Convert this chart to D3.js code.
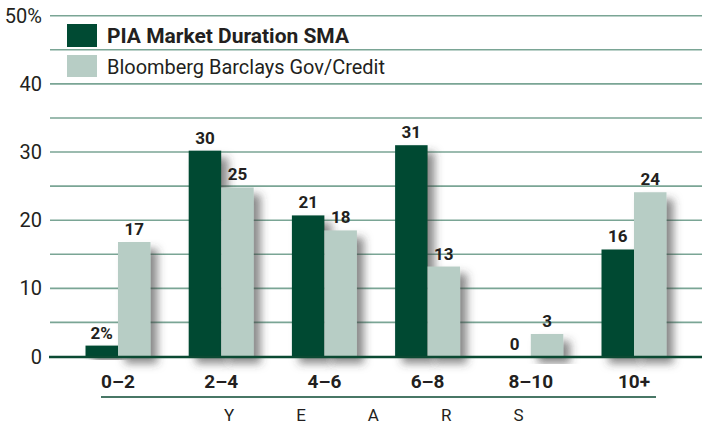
<!DOCTYPE html>
<html><head><meta charset="utf-8">
<script src="https://cdn.jsdelivr.net/npm/d3@7"></script>
<style>
html,body{margin:0;padding:0;background:#fff;}
svg{display:block;font-family:Roboto,"Open Sans",sans-serif;}
</style></head>
<body><svg id="c" width="702" height="426"></svg>
<script>
const categories = ["0–2","2–4","4–6","6–8","8–10","10+"];
const seriesNames = ["PIA Market Duration SMA","Bloomberg Barclays Gov/Credit"];
const piaValues = [1.6, 30.2, 20.7, 31.0, 0, 15.7];
const bbgValues = [16.8, 24.8, 18.5, 13.2, 3.3, 24.1];
const piaLabels = ["2%","30","21","31","0","16"];
const bbgLabels = ["17","25","18","13","3","24"];
const yTicks = [0,10,20,30,40,50];
const yTickLabels = ["0","10","20","30","40","50%"];
const minorTicks = [5,15,25,35,45];
const axisTitle = "YEARS";

const colors = ["#004a33","#b7cdc5"];
const gridColor = "#7aa595";
const svg = d3.select("#c");

const defs = svg.append("defs");
const f = defs.append("filter").attr("id","sh").attr("x","-20%").attr("y","-10%").attr("width","180%").attr("height","140%");
f.append("feDropShadow").attr("dx",7).attr("dy",7).attr("stdDeviation",4.5).attr("flood-color","#3a3a3a").attr("flood-opacity",0.6);

const y = d3.scaleLinear().domain([0,50]).range([356.5,15.7]);
const x0 = d3.scaleBand().domain(categories).range([66.4,685.6]).padding(0);
const bw = 32.5;

// grid lines
const gridX1 = 50, gridX2 = 702;
svg.append("g").selectAll("line").data(yTicks.filter(d=>d>0).concat(minorTicks)).join("line")
  .attr("x1",gridX1).attr("x2",gridX2)
  .attr("y1",d=>y(d)).attr("y2",d=>y(d))
  .attr("stroke",gridColor).attr("stroke-width",1.6);

// y tick labels
svg.append("g").selectAll("text").data(yTicks).join("text")
  .attr("x",42).attr("y",d=>y(d)+7)
  .attr("text-anchor","end").attr("font-size",20).attr("fill","#231f20")
  .text((d,i)=>yTickLabels[i]);

// bars
const series = [piaValues,bbgValues];
const labels = [piaLabels,bbgLabels];
const bars = svg.append("g");
const barCenter = (c,si)=> x0(c)+x0.bandwidth()/2 + (si===0?-bw/2:bw/2);
categories.forEach((c,ci)=>{
  series.forEach((vals,si)=>{
    const v = vals[ci];
    if (v <= 0) return;
    bars.append("rect")
      .attr("x",barCenter(c,si)-bw/2).attr("y",y(v)).attr("width",bw).attr("height",y(0)-y(v))
      .attr("fill",colors[si]).attr("filter","url(#sh)");
  });
});

// zero line
svg.append("line").attr("x1",49).attr("x2",702).attr("y1",y(0)+0.5).attr("y2",y(0)+0.5)
  .attr("stroke","#0b4a33").attr("stroke-width",2.6);

// value labels
const vl = svg.append("g");
categories.forEach((c,ci)=>{
  series.forEach((vals,si)=>{
    vl.append("text").attr("x",barCenter(c,si)).attr("y",y(vals[ci])-7)
      .attr("text-anchor","middle").attr("font-size",17).attr("font-weight","bold")
      .attr("fill","#231f20").text(labels[si][ci]);
  });
});

// category labels
svg.append("g").selectAll("text").data(categories).join("text")
  .attr("x",d=>x0(d)+x0.bandwidth()/2).attr("y",388)
  .attr("text-anchor","middle").attr("font-size",19).attr("font-weight","bold")
  .attr("fill","#231f20").text(d=>d);

// underline
svg.append("line").attr("x1",101).attr("x2",656).attr("y1",397).attr("y2",397)
  .attr("stroke","#0b4a33").attr("stroke-width",1.5);

// YEARS
svg.append("text").attr("x",224).attr("y",421)
  .attr("font-size",17).attr("fill","#231f20").attr("letter-spacing","62px")
  .text(axisTitle);

// legend
const lg = svg.append("g");
const legRows = [{y:24,h:23,base:43},{y:55,h:22,base:74}];
seriesNames.forEach((n,i)=>{
  lg.append("rect").attr("x",67).attr("y",legRows[i].y).attr("width",30).attr("height",legRows[i].h).attr("fill",colors[i]);
  lg.append("text").attr("x",107).attr("y",legRows[i].base)
    .attr("font-size",21).attr("font-weight",i===0?"bold":"normal")
    .attr("fill","#231f20")
    .attr("textLength", i===0?242:278).attr("lengthAdjust","spacingAndGlyphs")
    .text(n);
});
</script></body></html>
